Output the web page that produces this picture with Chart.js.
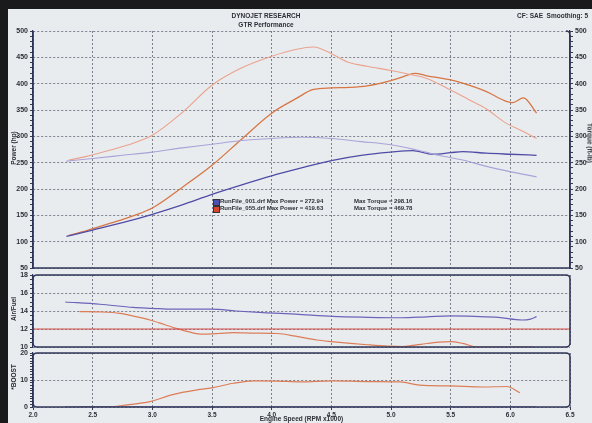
<!DOCTYPE html>
<html><head><meta charset="utf-8">
<script src="https://cdn.jsdelivr.net/npm/chart.js@4.4.0/dist/chart.umd.min.js"></script>
<style>
html,body{margin:0;padding:0;}
body{width:592px;height:423px;overflow:hidden;background:#e9ecee;position:relative;font-family:"Liberation Sans",Arial,sans-serif;}
#edgeTop{position:absolute;left:0;top:0;width:592px;height:9px;background:#1a1a1c;}
#edgeLeft{position:absolute;left:0;top:0;width:8px;height:423px;background:#1a1a1c;}
canvas{position:absolute;left:0;}
.t{position:absolute;font-weight:bold;color:#2e2f38;white-space:nowrap;font-size:6.5px;line-height:7px;}
.c{transform:translateX(-50%);}
.rl{transform:translate(-50%,-50%) rotate(-90deg);}
.rr{transform:translate(-50%,-50%) rotate(90deg);}
.sq{position:absolute;width:5px;height:5px;border:0.5px solid #333;}
</style></head>
<body>
<div id="edgeTop"></div>
<canvas id="cMain" width="592" height="280" style="top:0"></canvas>
<canvas id="cAfr" width="592" height="90" style="top:265px"></canvas>
<canvas id="cBoost" width="592" height="80" style="top:343px"></canvas>
<div id="edgeLeft"></div>

<div class="t c" style="left:266px;top:12px;">DYNOJET RESEARCH</div>
<div class="t c" style="left:266px;top:20.5px;">GTR Performance</div>
<div class="t" style="left:517px;top:11.5px;">CF: SAE&nbsp; Smoothing: 5</div>

<div class="t rl" style="left:13px;top:148px;">Power (hp)</div>
<div class="t rr" style="left:590px;top:143px;">Torque (ft-lb)</div>
<div class="t rl" style="left:13px;top:309px;">Air/Fuel</div>
<div class="t rl" style="left:13px;top:377px;">*BOOST</div>

<div class="sq" style="left:213px;top:199px;background:#4c4fae;"></div>
<div class="t" style="left:220px;top:198px;font-size:6px;">RunFile_001.drf Max Power = 272.94</div>
<div class="t" style="left:354px;top:198px;font-size:6px;">Max Torque = 298.16</div>
<div class="sq" style="left:213px;top:206px;background:#d9452f;"></div>
<div class="t" style="left:220px;top:205px;font-size:6px;">RunFile_055.drf Max Power = 419.63</div>
<div class="t" style="left:354px;top:205px;font-size:6px;">Max Torque = 469.78</div>

<script>
// ---------- DATA ----------
const xTicks = [2.0, 2.5, 3.0, 3.5, 4.0, 4.5, 5.0, 5.5, 6.0, 6.5];

// Run 055 (red) torque & power
const redTqRpm = [2.30, 2.45, 2.65, 2.85, 3.00, 3.25, 3.50, 3.75, 4.00, 4.20, 4.35, 4.50, 4.65, 4.80, 5.00, 5.15, 5.30, 5.50, 5.65, 5.80, 5.95, 6.10, 6.22];
const redTorque = [255, 262, 274, 288, 302, 345, 397, 430, 452, 465, 469.7, 457, 440, 433, 425, 418, 410, 388, 370, 352, 327, 310, 296];
const redPwRpm = [2.30, 2.45, 2.65, 2.85, 3.00, 3.25, 3.50, 3.75, 4.00, 4.20, 4.35, 4.50, 4.65, 4.80, 5.00, 5.10, 5.20, 5.30, 5.50, 5.60, 5.80, 5.95, 6.02, 6.11, 6.22];
const redPower = [112, 121, 135, 150, 164, 203, 245, 295, 344, 371, 389, 392, 393, 396, 406, 413, 419.6, 415, 407, 401, 385, 368, 364, 373, 344];

// Run 001 (blue) torque & power
const blueTqRpm = [2.28, 2.50, 2.75, 3.00, 3.25, 3.50, 3.75, 4.00, 4.25, 4.50, 4.75, 5.00, 5.20, 5.40, 5.60, 5.80, 6.00, 6.22];
const blueTorque = [253, 258, 264, 270, 278, 285, 292, 296, 298.2, 296, 290, 284, 275, 264, 255, 243, 233, 223];
const bluePwRpm = [2.28, 2.50, 2.75, 3.00, 3.25, 3.50, 3.75, 4.00, 4.25, 4.50, 4.75, 5.00, 5.18, 5.35, 5.50, 5.60, 5.80, 6.00, 6.22];
const bluePower = [110, 122, 136, 152, 170, 190, 208, 225, 240, 254, 264, 270, 272.9, 266, 269, 271, 268, 266, 264];

// Air/Fuel
const blueAfrRpm = [2.27, 2.56, 2.84, 3.00, 3.17, 3.40, 3.50, 3.70, 3.96, 4.20, 4.51, 4.80, 5.08, 5.30, 5.50, 5.70, 5.90, 6.10, 6.17, 6.22];
const blueAfr = [15.0, 14.75, 14.4, 14.3, 14.2, 14.2, 14.2, 14.0, 13.8, 13.65, 13.4, 13.3, 13.25, 13.35, 13.45, 13.4, 13.3, 13.0, 13.1, 13.37];
const redAfrRpm = [2.39, 2.55, 2.73, 2.85, 2.98, 3.10, 3.20, 3.30, 3.40, 3.55, 3.68, 3.85, 4.05, 4.20, 4.38, 4.50, 4.66, 4.80, 4.97, 5.10, 5.25, 5.40, 5.50, 5.60, 5.72, 5.90, 6.10, 6.20];
const redAfr = [13.93, 13.9, 13.74, 13.4, 13.0, 12.5, 12.07, 11.7, 11.44, 11.5, 11.6, 11.55, 11.5, 11.2, 10.78, 10.6, 10.4, 10.25, 10.1, 10.05, 10.3, 10.55, 10.6, 10.4, 10.0, 10.0, 10.0, 10.0];
const afrTargetRpm = [2.0, 6.5];
const afrTarget = [12, 12];

// Boost
const redBoostRpm = [2.39, 2.60, 2.79, 2.98, 3.17, 3.40, 3.51, 3.68, 3.85, 4.05, 4.24, 4.51, 4.80, 5.08, 5.24, 5.50, 5.77, 5.97, 6.08];
const redBoost = [0, 0, 0.8, 2.0, 4.6, 6.5, 7.2, 8.8, 9.7, 9.6, 9.3, 9.7, 9.4, 9.3, 8.1, 7.8, 7.4, 7.6, 5.3];
const blueBoostRpm = [2.27, 6.22];
const blueBoost = [0, 0];

// ---------- STYLE ----------
const GRID = '#7b808c';
const TXT = '#2e2f38';
const FONT = {family: '"Liberation Sans", Arial, sans-serif', size: 7, weight: 'bold'};
const pts = (xs, ys) => xs.map((x, i) => ({x, y: ys[i]}));

const framePlugin = {
  id: 'frame',
  afterDatasetsDraw(chart, args, o) {
    if (!o || !o.on) return;
    const a = chart.chartArea, ctx = chart.ctx, r = 4;
    ctx.save();
    ctx.strokeStyle = '#30365a';
    ctx.lineWidth = 1.6;
    ctx.beginPath();
    if (o.openTop) {
      ctx.moveTo(a.left, a.top);
      ctx.lineTo(a.left, a.bottom);
      ctx.lineTo(a.right, a.bottom);
      ctx.lineTo(a.right, a.top + r);
      ctx.arcTo(a.right, a.top, a.right - r, a.top, r);
    } else {
      ctx.roundRect(a.left, a.top, a.right - a.left, a.bottom - a.top, r);
    }
    ctx.stroke();
    ctx.restore();
  }
};
Chart.register(framePlugin);

function xScale(show) {
  return {
    type: 'linear', min: 2, max: 6.5,
    afterBuildTicks: s => { s.ticks = xTicks.map(v => ({value: v})); },
    ticks: {display: show, callback: v => Number(v).toFixed(1), font: {...FONT, size: 6.5}, color: TXT, padding: 1, maxRotation: 0, autoSkip: false},
    grid: {color: GRID, lineWidth: 1, drawTicks: show, tickLength: 3, tickColor: '#3a3d4a', tickBorderDash: []},
    border: {display: false, dash: [2, 2]},
    title: {display: show, text: 'Engine Speed (RPM x1000)', font: {...FONT, size: 6.5}, color: TXT, padding: 0},
    afterFit: s => { s.height = show ? 16 : 0; }
  };
}
function yScale(min, max, step, major, pos, width, onArea) {
  return {
    type: 'linear', position: pos, min, max,
    ticks: {stepSize: step, autoSkip: false, font: FONT, color: TXT, padding: 2,
            callback: v => (Math.abs(v / major - Math.round(v / major)) < 1e-6) ? String(Math.round(v)) : ''},
    grid: {
      drawOnChartArea: onArea,
      color: c => (c.tick && Math.abs(c.tick.value / major - Math.round(c.tick.value / major)) < 1e-6) ? GRID : 'rgba(0,0,0,0)',
      lineWidth: 1, drawTicks: true, tickLength: 3, tickColor: '#3a3d4a', tickBorderDash: []
    },
    border: {display: true, color: '#30365a', width: 1.2, dash: [2, 2]},
    afterFit: s => { s.width = width; }
  };
}
function ds(label, xs, ys, color, w) {
  return {label, data: pts(xs, ys), borderColor: color, borderWidth: w || 1.2, pointRadius: 0,
          cubicInterpolationMode: 'monotone', fill: false};
}
const base = {responsive: false, animation: false, devicePixelRatio: 1, parsing: true,
  plugins: {legend: {display: false}, tooltip: {enabled: false}}};

new Chart(document.getElementById('cMain'), {
  type: 'line',
  data: {datasets: [
    ds('RunFile_055 Torque', redTqRpm, redTorque, '#eba28e', 1.1),
    ds('RunFile_001 Torque', blueTqRpm, blueTorque, '#aaa3d8', 1.1),
    ds('RunFile_001 Power', bluePwRpm, bluePower, '#4f4ca6', 1.3),
    ds('RunFile_055 Power', redPwRpm, redPower, '#d77645', 1.3)
  ]},
  options: {...base,
    layout: {padding: {top: 31, bottom: 12, left: 0, right: 0}},
    plugins: {...base.plugins, frame: {on: true, openTop: true}},
    scales: {
      x: xScale(false),
      y: yScale(50, 500, 10, 50, 'left', 33, true),
      y2: yScale(50, 500, 10, 50, 'right', 22, false)
    }
  }
});

new Chart(document.getElementById('cAfr'), {
  type: 'line',
  data: {datasets: [
    ds('AFR target', afrTargetRpm, afrTarget, '#d84a48', 1.2),
    ds('RunFile_001 A/F', blueAfrRpm, blueAfr, '#6b64bb', 1.2),
    ds('RunFile_055 A/F', redAfrRpm, redAfr, '#dc7d58', 1.2)
  ]},
  options: {...base,
    layout: {padding: {top: 10, bottom: 8, left: 0, right: 22}},
    plugins: {...base.plugins, frame: {on: true}},
    scales: {x: xScale(false), y: yScale(10, 18, 0.5, 2, 'left', 33, true)}
  }
});

new Chart(document.getElementById('cBoost'), {
  type: 'line',
  data: {datasets: [
    ds('RunFile_001 Boost', blueBoostRpm, blueBoost, '#5b58b0', 1.2),
    ds('RunFile_055 Boost', redBoostRpm, redBoost, '#dc7d58', 1.2)
  ]},
  options: {...base,
    layout: {padding: {top: 10, bottom: 0, left: 0, right: 22}},
    plugins: {...base.plugins, frame: {on: true}},
    scales: {x: xScale(true), y: yScale(0, 20, 1, 10, 'left', 33, true)}
  }
});
</script>
</body></html>
